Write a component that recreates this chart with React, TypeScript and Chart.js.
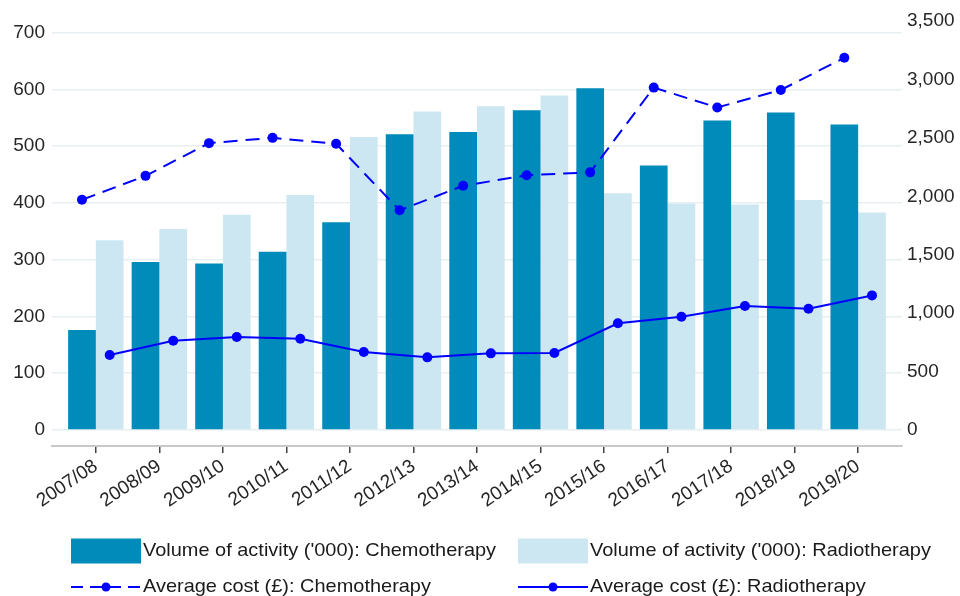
import React, { useEffect, useRef } from 'react';
import { Chart, registerables } from 'chart.js';

Chart.register(...registerables);

const categories = [
  '2007/08', '2008/09', '2009/10', '2010/11', '2011/12', '2012/13', '2013/14',
  '2014/15', '2015/16', '2016/17', '2017/18', '2018/19', '2019/20',
];
const chemoVolume = [176, 296, 293, 314, 366, 521, 525, 563, 602, 466, 545, 559, 538];
const radioVolume = [334, 354, 379, 414, 516, 561, 570, 589, 417, 399, 397, 405, 383];
const chemoCost = [1970, 2175, 2455, 2500, 2450, 1880, 2090, 2180, 2205, 2930, 2760, 2910, 3185];
const radioCost = [642, 764, 796, 781, 667, 622, 656, 659, 913, 970, 1061, 1038, 1152];
const seriesLabels = [
  "Volume of activity ('000): Chemotherapy",
  "Volume of activity ('000): Radiotherapy",
  'Average cost (£): Chemotherapy',
  'Average cost (£): Radiotherapy',
];
const leftTicks = [0, 100, 200, 300, 400, 500, 600, 700];
const rightTicks = [0, 500, 1000, 1500, 2000, 2500, 3000, 3500];

const FONT = "'Liberation Sans', Arial, Helvetica, sans-serif";
const TEXT = '#262626';
const CHEMO_BAR = '#008bba';
const RADIO_BAR = '#cde7f2';
const LINE = '#0000ff';
const CAT_PCT = 0.872;
const LINE_SHIFT = CAT_PCT / 4;
const DASH = [14, 8];

export default function App() {
  const ref = useRef<HTMLCanvasElement>(null);

  useEffect(() => {
    const legendPlugin = {
      id: 'customLegend',
      afterDraw(chart: any) {
        const ctx = chart.ctx as CanvasRenderingContext2D;
        ctx.save();
        const cols = [71, 518];
        const boxW = 70;
        const rows = [551, 587];
        const fills = [CHEMO_BAR, RADIO_BAR];
        for (let c = 0; c < 2; c++) {
          ctx.fillStyle = fills[c];
          ctx.fillRect(cols[c], rows[0] - 12.5, boxW, 25);
        }
        for (let c = 0; c < 2; c++) {
          ctx.strokeStyle = LINE;
          ctx.lineWidth = 2;
          ctx.setLineDash(c === 0 ? [12, 7] : []);
          ctx.beginPath();
          ctx.moveTo(cols[c], rows[1]);
          ctx.lineTo(cols[c] + boxW, rows[1]);
          ctx.stroke();
          ctx.setLineDash([]);
          ctx.fillStyle = LINE;
          ctx.beginPath();
          ctx.arc(cols[c] + boxW / 2, rows[1], 4.5, 0, Math.PI * 2);
          ctx.fill();
        }
        ctx.fillStyle = '#1a1a1a';
        ctx.font = `19px ${FONT}`;
        ctx.textBaseline = 'middle';
        ctx.textAlign = 'left';
        for (let r = 0; r < 2; r++) {
          for (let c = 0; c < 2; c++) {
            ctx.save();
            ctx.translate(cols[c] + boxW + 2, rows[r]);
            ctx.scale(1.05, 1);
            ctx.fillText(seriesLabels[r * 2 + c], 0, 0);
            ctx.restore();
          }
        }
        ctx.restore();
      },
    };

    const chart = new Chart(ref.current as HTMLCanvasElement, {
      type: 'bar',
      data: {
        datasets: [
          {
            type: 'line',
            label: seriesLabels[2],
            data: chemoCost.map((v, i) => ({ x: i - LINE_SHIFT, y: v })),
            yAxisID: 'y1',
            borderColor: LINE,
            backgroundColor: LINE,
            borderDash: DASH,
            borderWidth: 2,
            pointRadius: 5,
            pointBorderWidth: 0,
            pointBackgroundColor: LINE,
            tension: 0,
            order: 0,
          } as any,
          {
            type: 'line',
            label: seriesLabels[3],
            data: radioCost.map((v, i) => ({ x: i + LINE_SHIFT, y: v })),
            yAxisID: 'y1',
            borderColor: LINE,
            backgroundColor: LINE,
            borderWidth: 2,
            pointRadius: 5,
            pointBorderWidth: 0,
            pointBackgroundColor: LINE,
            tension: 0,
            order: 0,
          } as any,
          {
            type: 'bar',
            label: seriesLabels[0],
            data: chemoVolume.map((v, i) => ({ x: i, y: v })),
            yAxisID: 'y',
            backgroundColor: CHEMO_BAR,
            categoryPercentage: CAT_PCT,
            barPercentage: 1,
            order: 1,
          } as any,
          {
            type: 'bar',
            label: seriesLabels[1],
            data: radioVolume.map((v, i) => ({ x: i, y: v })),
            yAxisID: 'y',
            backgroundColor: RADIO_BAR,
            categoryPercentage: CAT_PCT,
            barPercentage: 1,
            order: 1,
          } as any,
        ],
      },
      options: {
        responsive: false,
        animation: false,
        devicePixelRatio: 1,
        layout: { padding: { top: 21, bottom: 70, left: 0, right: 0 } },
        plugins: {
          legend: { display: false },
          tooltip: { enabled: false },
        },
        font: { family: FONT, size: 19 },
        scales: {
          x: {
            type: 'linear',
            min: -0.69,
            max: 12.69,
            offset: false,
            afterBuildTicks: (s: any) => {
              s.ticks = categories.map((_, i) => ({ value: i }));
            },
            afterFit: (s: any) => {
              s.height = 80;
            },
            ticks: {
              callback: (v: any) => categories[Math.round(Number(v))],
              autoSkip: false,
              minRotation: 34,
              maxRotation: 34,
              color: TEXT,
              font: { family: FONT, size: 19 },
              padding: 2,
            },
            grid: {
              offset: false,
              drawOnChartArea: false,
              drawTicks: true,
              tickLength: 7,
              tickColor: '#444444',
              lineWidth: 1.5,
            },
            border: { display: true, color: '#c8c8c8', width: 2 },
          },
          y: {
            type: 'linear',
            position: 'left',
            min: -28.2,
            max: 720.3,
            afterBuildTicks: (s: any) => {
              s.ticks = leftTicks.map((v) => ({ value: v }));
            },
            afterFit: (s: any) => {
              s.width = 52;
            },
            ticks: {
              color: TEXT,
              font: { family: FONT, size: 19 },
              padding: 7,
            },
            grid: { color: '#e8eff2', lineWidth: 1.5, drawTicks: false },
            border: { display: false },
          },
          y1: {
            type: 'linear',
            position: 'right',
            min: -136.6,
            max: 3500,
            afterBuildTicks: (s: any) => {
              s.ticks = rightTicks.map((v) => ({ value: v }));
            },
            afterFit: (s: any) => {
              s.width = 58;
            },
            ticks: {
              color: TEXT,
              font: { family: FONT, size: 19 },
              padding: 5,
              callback: (v: any) => Number(v).toLocaleString('en-GB'),
            },
            grid: { display: false, drawTicks: false },
            border: { display: false },
          },
        },
      } as any,
      plugins: [legendPlugin],
    });

    return () => chart.destroy();
  }, []);

  return (
    <div style={{ position: 'absolute', left: 0, top: 0, width: 960, height: 596, background: '#fff' }}>
      <canvas ref={ref} width={960} height={596} style={{ display: 'block' }} />
    </div>
  );
}
